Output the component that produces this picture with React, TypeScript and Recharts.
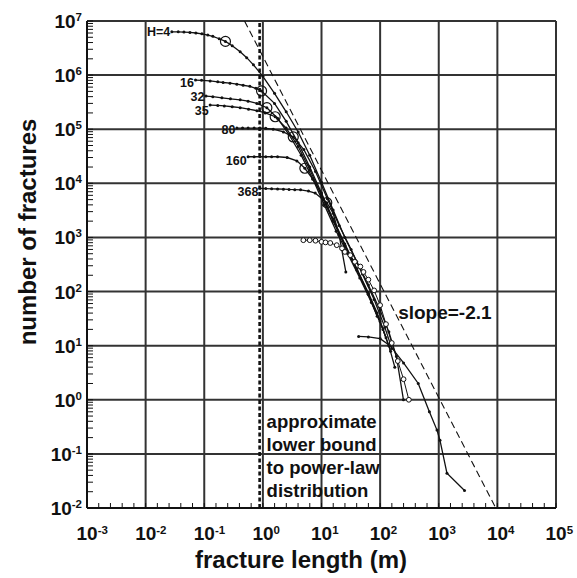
import React from 'react';
import {
  ComposedChart,
  Line,
  Scatter,
  XAxis,
  YAxis,
  ReferenceLine,
  ReferenceDot,
} from 'recharts';

const FONT = '"Liberation Sans", Arial, Helvetica, sans-serif';
const INK = '#111';

// ---- axes -----------------------------------------------------------------
const X_DECADES = [1e-3, 1e-2, 1e-1, 1, 10, 100, 1e3, 1e4, 1e5];
const Y_DECADES = [1e-2, 1e-1, 1, 10, 100, 1e3, 1e4, 1e5, 1e6, 1e7];
const X_MINOR_STEPS = [0.2, 0.4, 0.6, 0.8]; // fractional-decade offsets of the small length ticks
const Y_MINOR_MULTIPLES = [2, 3, 4, 5, 6, 7, 8, 9];

const X_TICKS = [
  ...X_DECADES,
  ...X_DECADES.slice(0, -1).flatMap((d) => X_MINOR_STEPS.map((s) => d * Math.pow(10, s))),
].sort((a, b) => a - b);
const Y_TICKS = [
  ...Y_DECADES,
  ...Y_DECADES.slice(0, -1).flatMap((d) => Y_MINOR_MULTIPLES.map((m) => d * m)),
].sort((a, b) => a - b);

// ---- cumulative fracture counts: [length (m), number of fractures] ---------
const H4: [number, number][] = [
  [0.028, 6.3e6], [0.036, 6.3e6], [0.045, 6.25e6], [0.057, 6.15e6], [0.072, 6.0e6],
  [0.091, 5.8e6], [0.115, 5.5e6], [0.14, 5.2e6], [0.18, 4.7e6], [0.23, 4.2e6],
  [0.3, 3.5e6], [0.41, 2.7e6], [0.53, 2.1e6], [0.69, 1.55e6], [1.0, 9.5e5],
  [1.58, 4.6e5], [2.5, 2.1e5], [4.0, 8.9e4], [6.3, 3.3e4], [10, 1.05e4],
  [15.8, 3.2e3], [25, 1.0e3], [40, 355], [63, 132], [100, 45], [141, 18],
  [190, 6.3], [250, 1.0],
];
const H16: [number, number][] = [
  [0.071, 8.1e5], [0.09, 8.0e5], [0.126, 7.8e5], [0.17, 7.5e5], [0.21, 7.3e5],
  [0.275, 7.1e5], [0.36, 6.8e5], [0.46, 6.5e5], [0.6, 6.2e5], [0.76, 5.7e5],
  [0.95, 5.1e5], [1.58, 3.0e5], [2.5, 1.4e5], [4.0, 5.6e4], [6.3, 2.0e4],
  [10, 6.6e3], [15.8, 2.1e3], [25, 710], [40, 250], [63, 89], [100, 28],
  [141, 10], [178, 4.0],
];
const H32: [number, number][] = [
  [0.107, 4.1e5], [0.14, 4.0e5], [0.2, 3.8e5], [0.28, 3.65e5], [0.41, 3.5e5],
  [0.56, 3.3e5], [0.79, 3.0e5], [1.17, 2.5e5], [1.78, 1.6e5], [2.8, 7.9e4],
  [4.5, 3.3e4], [7.1, 1.2e4], [11.2, 4.0e3], [17.8, 1.3e3], [28, 500], [45, 178],
  [71, 63], [112, 20], [151, 7.9],
];
const H35: [number, number][] = [
  [0.126, 2.8e5], [0.17, 2.75e5], [0.22, 2.7e5], [0.3, 2.6e5], [0.41, 2.5e5],
  [0.57, 2.35e5], [0.79, 2.2e5], [1.1, 2.0e5], [1.62, 1.7e5], [2.5, 1.05e5],
  [4.0, 4.8e4], [6.3, 1.8e4], [10, 6.0e3], [15.8, 2.0e3], [25, 710], [40, 263],
  [63, 95], [89, 40], [126, 14],
];
const H80: [number, number][] = [
  [0.36, 1.05e5], [0.45, 1.05e5], [0.56, 1.05e5], [0.71, 1.05e5], [0.89, 1.05e5],
  [1.12, 1.04e5], [1.5, 1.0e5], [2.24, 8.9e4], [3.3, 7.2e4], [5.0, 4.2e4],
  [7.9, 1.66e4], [12.6, 5.2e3], [20, 1.66e3], [32, 600], [50, 210], [79, 71],
  [120, 22], [158, 8.9],
];
const H160: [number, number][] = [
  [0.56, 3.1e4], [0.71, 3.1e4], [0.89, 3.1e4], [1.12, 3.1e4], [1.41, 3.1e4],
  [1.78, 3.1e4], [2.6, 3.0e4], [3.8, 2.6e4], [5.2, 1.9e4], [7.1, 1.2e4],
  [10, 6.3e3], [15.8, 2.2e3], [25, 760], [40, 263], [63, 89], [89, 35],
];
const H368: [number, number][] = [
  [0.89, 8.1e3], [1.12, 8.0e3], [1.41, 7.9e3], [1.78, 7.85e3], [2.24, 7.8e3],
  [2.8, 7.7e3], [3.5, 7.65e3], [4.4, 7.6e3], [6.0, 7.2e3], [7.8, 6.6e3],
  [12.3, 4.4e3], [15.8, 2.8e3], [20, 1.1e3], [26, 230],
];
const OUTCROP: [number, number][] = [
  [4.9, 890], [6.3, 890], [7.9, 870], [10, 830], [11.7, 810], [14.1, 790],
  [18.2, 720], [22.4, 630], [25, 540], [31, 470], [37, 355], [46, 290], [52, 230],
  [63, 166], [79, 105], [100, 56], [126, 25], [158, 11.2], [200, 5.2], [251, 2.4],
  [309, 1.0],
];
const MAPPED: [number, number][] = [
  [43, 14.8], [63, 14.5], [100, 13.5], [148, 10], [251, 4.8], [447, 2.0],
  [692, 0.6], [933, 0.275], [1050, 0.178], [1380, 0.044], [2750, 0.021],
];
// open circles marking where each H curve bends over
const KNEES: [number, number][] = [
  [0.23, 4.2e6], [0.95, 5.1e5], [1.17, 2.5e5], [1.62, 1.7e5], [3.3, 7.2e4],
  [5.2, 1.9e4], [12.3, 4.4e3],
];

// labelDy: baseline offset of each curve's name below its first point
const CURVES: { name: string; rows: [number, number][]; labelDy: number }[] = [
  { name: 'H=4', rows: H4, labelDy: 4.5 },
  { name: '16', rows: H16, labelDy: 7 },
  { name: '32', rows: H32, labelDy: 5 },
  { name: '35', rows: H35, labelDy: 10 },
  { name: '80', rows: H80, labelDy: 6 },
  { name: '160', rows: H160, labelDy: 8 },
  { name: '368', rows: H368, labelDy: 8 },
];

// power-law reference: N = FIT_AT_1M * L^SLOPE
const SLOPE = -2.1;
const FIT_AT_1M = 2.2e6;
const FIT_N_RANGE = [1e7, 1e-2];
const LOWER_BOUND_L = 0.88;
const SLOPE_LABEL_AT = { L: 203, N: 31 };

const toPts = (rows: [number, number][]) => rows.map(([L, N]) => ({ L, N }));
const FIT_LINE = FIT_N_RANGE.map((N) => ({ L: Math.pow(N / FIT_AT_1M, 1 / SLOPE), N }));

const isDecade = (v: number) => Math.abs(Math.log10(v) - Math.round(Math.log10(v))) < 1e-6;
const expOf = (v: number) => Math.round(Math.log10(v));

const XTick = (props: any) => {
  const { x, payload, index } = props;
  if (!isDecade(payload.value)) return <g key={`xt-${index}`} />;
  return (
    <text
      key={`xt-${index}`}
      x={x - 10.5}
      y={540}
      fontFamily={FONT}
      fontWeight="bold"
      fontSize={19}
      fill={INK}
    >
      10
      <tspan dy={-6.5} fontSize={11.5}>{expOf(payload.value)}</tspan>
    </text>
  );
};

const YTick = (props: any) => {
  const { y, payload, index } = props;
  if (!isDecade(payload.value)) return <g key={`yt-${index}`} />;
  return (
    <text
      key={`yt-${index}`}
      x={82}
      y={y + 7}
      textAnchor="end"
      fontFamily={FONT}
      fontWeight="bold"
      fontSize={19}
      fill={INK}
    >
      10
      <tspan dy={-7} fontSize={11.5}>{expOf(payload.value)}</tspan>
    </text>
  );
};

const curveDot = (label: string | null, hollow: boolean, labelDy = 7) => (p: any) => {
  const { cx, cy, index } = p;
  return (
    <g key={`dot-${label ?? 'o'}-${index}`}>
      <circle
        cx={cx}
        cy={cy}
        r={hollow ? 2.4 : 1.5}
        fill={hollow ? '#fff' : INK}
        stroke={INK}
        strokeWidth={hollow ? 1 : 0}
      />
      {label && index === 0 ? (
        <text
          x={cx - 1.5}
          y={cy + labelDy}
          textAnchor="end"
          fontFamily={FONT}
          fontWeight="bold"
          fontSize={12.5}
          fill={INK}
        >
          {label}
        </text>
      ) : null}
    </g>
  );
};

const knee = (p: any) => (
  <circle cx={p.cx} cy={p.cy} r={5} fill="none" stroke={INK} strokeWidth={1.2} />
);

const BOUND_TEXT = ['approximate', 'lower bound', 'to power-law', 'distribution'];

const boundLabel = (p: any) => {
  const vb = p.viewBox || { x: 260, y: 21, height: 487 };
  const bottom = vb.y + vb.height;
  return (
    <text fontFamily={FONT} fontWeight="bold" fontSize={18.5} fill={INK}>
      {BOUND_TEXT.map((t, i) => (
        <tspan key={t} x={vb.x + 7} y={bottom - 80 + i * 23}>
          {t}
        </tspan>
      ))}
    </text>
  );
};

const slopeLabel = (p: any) => {
  const vb = p.viewBox || { x: 398, y: 319 };
  return (
    <text x={vb.x} y={vb.y} fontFamily={FONT} fontWeight="bold" fontSize={19} fill={INK}>
      {`slope=${SLOPE}`}
    </text>
  );
};

const xTitle = () => (
  <text x={301} y={568} textAnchor="middle" fontFamily={FONT} fontWeight="bold" fontSize={24} fill={INK}>
    fracture length (m)
  </text>
);

const yTitle = () => (
  <text
    x={36}
    y={232}
    transform="rotate(-90 36 232)"
    textAnchor="middle"
    fontFamily={FONT}
    fontWeight="bold"
    fontSize={24}
    fill={INK}
  >
    number of fractures
  </text>
);

export default function App() {
  return (
    <div style={{ position: 'absolute', left: 0, top: 0, width: 577, height: 578, background: '#fff' }}>
      <ComposedChart width={577} height={578} margin={{ top: 21, right: 21, bottom: 30, left: 7 }}>
        <XAxis
          dataKey="L"
          type="number"
          scale="log"
          domain={[1e-3, 1e5]}
          allowDataOverflow
          ticks={X_TICKS}
          interval={0}
          tickSize={-5}
          tickMargin={0}
          tick={XTick}
          tickLine={{ stroke: INK, strokeWidth: 1 }}
          axisLine={{ stroke: INK, strokeWidth: 2 }}
          height={40}
          label={{ content: xTitle }}
        />
        <YAxis
          dataKey="N"
          type="number"
          scale="log"
          domain={[1e-2, 1e7]}
          allowDataOverflow
          ticks={Y_TICKS}
          interval={0}
          tickSize={-6}
          tickMargin={5}
          tick={YTick}
          tickLine={{ stroke: INK, strokeWidth: 1 }}
          axisLine={{ stroke: INK, strokeWidth: 2 }}
          width={80}
          label={{ content: yTitle }}
        />

        {X_DECADES.slice(1).map((v) => (
          <ReferenceLine key={`gx-${v}`} x={v} stroke="#333" strokeWidth={2} />
        ))}
        {Y_DECADES.slice(1).map((v) => (
          <ReferenceLine key={`gy-${v}`} y={v} stroke="#333" strokeWidth={2} />
        ))}

        <ReferenceLine
          x={LOWER_BOUND_L}
          stroke={INK}
          strokeWidth={2.6}
          strokeDasharray="4 2.5"
          label={{ content: boundLabel }}
        />

        <Line
          data={FIT_LINE}
          dataKey="N"
          stroke={INK}
          strokeWidth={1.1}
          strokeDasharray="7 4"
          dot={false}
          activeDot={false}
          isAnimationActive={false}
        />

        {CURVES.map((c) => (
          <Line
            key={c.name}
            data={toPts(c.rows)}
            dataKey="N"
            stroke={INK}
            strokeWidth={1.3}
            dot={curveDot(c.name, false, c.labelDy)}
            activeDot={false}
            isAnimationActive={false}
          />
        ))}

        <Line
          data={toPts(MAPPED)}
          dataKey="N"
          stroke={INK}
          strokeWidth={1.3}
          dot={curveDot(null, false)}
          activeDot={false}
          isAnimationActive={false}
        />
        <Line
          data={toPts(OUTCROP)}
          dataKey="N"
          stroke={INK}
          strokeWidth={1}
          dot={curveDot(null, true)}
          activeDot={false}
          isAnimationActive={false}
        />

        <Scatter data={toPts(KNEES)} shape={knee} isAnimationActive={false} />

        <ReferenceDot
          x={SLOPE_LABEL_AT.L}
          y={SLOPE_LABEL_AT.N}
          r={0}
          fill="none"
          stroke="none"
          label={{ content: slopeLabel }}
        />
      </ComposedChart>
    </div>
  );
}
